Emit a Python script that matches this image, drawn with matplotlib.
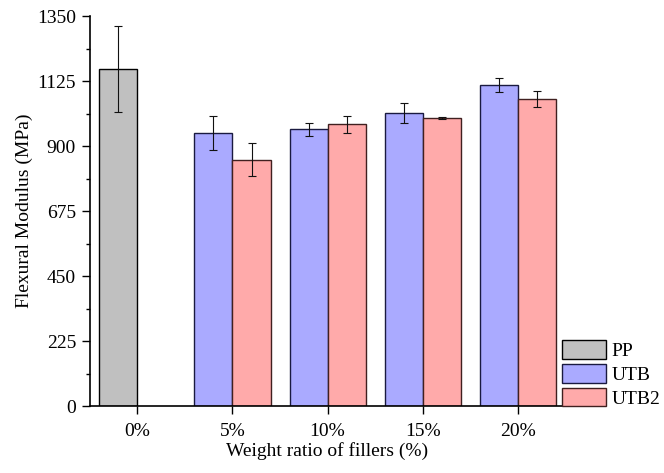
import numpy as np
import matplotlib
matplotlib.use("Agg")
import matplotlib.pyplot as plt
from matplotlib.ticker import MultipleLocator

plt.rcParams['font.family'] = ['Liberation Serif', 'DejaVu Serif']
plt.rcParams['font.size'] = 14

# flexural modulus (MPa) vs filler loading
groups = ['0%', '5%', '10%', '15%', '20%']
pp_val = [1167]
pp_err = [150]
utb_val = [944, 958, 1013, 1111]
utb_err = [59, 23, 35, 24]
utb2_val = [853, 975, 996, 1063]
utb2_err = [58, 29, 3, 27]

fig = plt.figure(figsize=(6.64, 4.73), dpi=100)
ax = fig.add_axes([0.1355, 0.1416, 0.7155, 0.8245])

w = 0.4
x = np.arange(len(groups))
ekw = dict(ecolor='#111111', elinewidth=0.8, capsize=3, capthick=0.8)

ax.bar(x[:1] - w / 2, pp_val, w, yerr=pp_err, color='#c0c0c0',
       edgecolor='black', linewidth=1, label='PP', error_kw=ekw)
ax.bar(x[1:] - w / 2, utb_val, w, yerr=utb_err, color='#aaaaff',
       edgecolor='#1a1a40', linewidth=1, label='UTB', error_kw=ekw)
ax.bar(x[1:] + w / 2, utb2_val, w, yerr=utb2_err, color='#ffaaaa',
       edgecolor='#402020', linewidth=1, label='UTB2', error_kw=ekw)

ax.set_xlim(-0.5, 4.5)
ax.set_ylim(0, 1350)
ax.set_xticks(x)
ax.set_xticklabels(groups)
ax.yaxis.set_major_locator(MultipleLocator(225))
ax.yaxis.set_minor_locator(MultipleLocator(112.5))
ax.tick_params(axis='y', which='major', direction='out', length=6, width=1, pad=4, labelsize=14)
ax.tick_params(axis='x', which='major', direction='out', length=6, width=1, pad=6, labelsize=14)
ax.tick_params(axis='y', which='minor', direction='out', length=3, width=1)
for s in ['top', 'right']:
    ax.spines[s].set_visible(False)
for s in ['left', 'bottom']:
    ax.spines[s].set_linewidth(1.2)

ax.set_xlabel('Weight ratio of fillers (%)', fontsize=14, labelpad=2)
ax.set_ylabel('Flexural Modulus (MPa)', fontsize=14, labelpad=3)

fig.legend(loc='lower left', bbox_to_anchor=(0.846, 0.138), frameon=False,
           fontsize=14, handlelength=2.27, handleheight=1.08,
           labelspacing=0.2, handletextpad=0.3, borderaxespad=0,
           borderpad=0)

fig.savefig('out.png', dpi=100)
